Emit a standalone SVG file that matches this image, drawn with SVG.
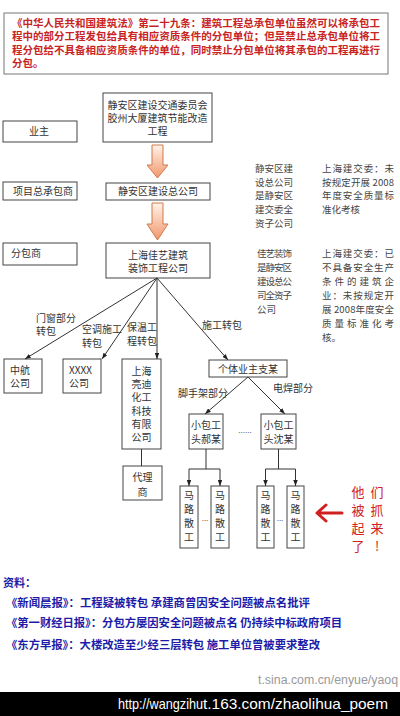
<svg xmlns="http://www.w3.org/2000/svg" width="400" height="716" viewBox="0 0 400 716">
<style>
.bg{fill:#fff}
.box{fill:#fff;stroke:#444;stroke-width:1}
.t{font-family:"Noto Sans CJK SC","Noto Sans",sans-serif;font-size:10px;fill:#333}
.s{font-size:9.5px}
.c{text-anchor:middle}
.note{font-family:"Noto Sans CJK SC","Noto Sans",sans-serif;font-size:9.5px;fill:#444}
.law{font-family:"Noto Sans CJK SC",sans-serif;font-size:10.5px;font-weight:bold;fill:#c82424}
.blue{font-family:"Noto Sans CJK SC",sans-serif;font-size:11px;font-weight:bold;fill:#1c1ca8}
.red{font-family:"Noto Sans CJK SC",sans-serif;font-size:13px;fill:#d02020;text-anchor:middle}
.ln{stroke:#333;stroke-width:1;fill:none}
.arr{marker-end:url(#ah)}
.fat{fill:url(#fg);stroke:#d07a4a;stroke-width:1}
</style>
<defs>
<marker id="ah" viewBox="0 0 8 6" refX="8" refY="3" markerWidth="6" markerHeight="4.5" markerUnits="userSpaceOnUse" orient="auto">
<path d="M0,0 L8,3 L0,6 z" fill="#222"/>
</marker>
<linearGradient id="fg" x1="0" y1="0" x2="0" y2="1">
<stop offset="0" stop-color="#fff3ec"/>
<stop offset="1" stop-color="#f2976a"/>
</linearGradient>
</defs>
<rect class="bg" x="0" y="0" width="400" height="716"/>

<g id="law">
<rect x="4" y="13" width="384" height="61" fill="#fff" stroke="#777" stroke-width="1"/>
<text class="law" x="12" y="27" textLength="368" lengthAdjust="spacingAndGlyphs">《中华人民共和国建筑法》第二十九条：建筑工程总承包单位虽然可以将承包工</text>
<text class="law" x="12" y="40" textLength="368" lengthAdjust="spacingAndGlyphs">程中的部分工程发包给具有相应资质条件的分包单位；但是禁止总承包单位将工</text>
<text class="law" x="12" y="54" textLength="368" lengthAdjust="spacingAndGlyphs">程分包给不具备相应资质条件的单位，同时禁止分包单位将其承包的工程再进行</text>
<text class="law" x="12" y="67">分包。</text>
</g>

<g id="owner-label">
<rect class="box" x="3" y="121" width="74" height="21"/>
<text class="t c" x="39" y="135">业主</text>
</g>
<g id="gc-label">
<rect class="box" x="3" y="182" width="74" height="18"/>
<text class="t" x="13" y="194.5">项目总承包商</text>
</g>
<g id="sub-label">
<rect class="box" x="3" y="243" width="74" height="22"/>
<text class="t" x="11" y="256.5">分包商</text>
</g>

<g id="owner">
<rect class="box" x="103" y="93" width="109" height="49"/>
<text class="t c" x="157.5" y="108.5">静安区建设交通委员会</text>
<text class="t c" x="157.5" y="121.5">胶州大厦建筑节能改造</text>
<text class="t c" x="157.5" y="134.5">工程</text>
</g>
<g id="gc">
<rect class="box" x="106" y="183" width="104" height="17"/>
<text class="t c" x="158" y="195">静安区建设总公司</text>
</g>
<g id="jiayi">
<rect class="box" x="106" y="243" width="104" height="35"/>
<text class="t c" x="158" y="258.5">上海佳艺建筑</text>
<text class="t c" x="158" y="271.5">装饰工程公司</text>
</g>

<g id="zhonghang">
<rect class="box" x="4" y="359" width="38" height="34"/>
<text class="t" x="10" y="373.5">中航</text>
<text class="t" x="10" y="386.5">公司</text>
</g>
<g id="xxxx">
<rect class="box" x="63" y="359" width="38" height="34"/>
<text class="t" x="69" y="373.5">XXXX</text>
<text class="t" x="69" y="386.5">公司</text>
</g>
<g id="liangdi">
<rect class="box" x="122" y="359" width="39" height="90"/>
<text class="t c" x="141.5" y="375">上海</text>
<text class="t c" x="141.5" y="388">亮迪</text>
<text class="t c" x="141.5" y="401">化工</text>
<text class="t c" x="141.5" y="414.5">科技</text>
<text class="t c" x="141.5" y="427.5">有限</text>
<text class="t c" x="141.5" y="440.5">公司</text>
</g>
<g id="agent">
<rect class="box" x="123" y="466" width="39" height="34"/>
<text class="t c" x="142.5" y="481">代理</text>
<text class="t c" x="142.5" y="495.5">商</text>
</g>
<g id="geti">
<rect class="box" x="209" y="360" width="78" height="17"/>
<text class="t c" x="248" y="372.5">个体业主支某</text>
</g>
<g id="hao">
<rect class="box" x="189" y="414" width="34" height="35"/>
<text class="t c" x="206" y="429">小包工</text>
<text class="t c" x="206" y="442.5">头郝某</text>
</g>
<g id="shen">
<rect class="box" x="261" y="414" width="35" height="35"/>
<text class="t c" x="278.5" y="429">小包工</text>
<text class="t c" x="278.5" y="442.5">头沈某</text>
</g>
<g id="worker1">
<rect class="box" x="180" y="486" width="18" height="62"/>
<text class="t c" x="189" y="498.5">马</text><text class="t c" x="189" y="512.5">路</text><text class="t c" x="189" y="526.5">散</text><text class="t c" x="189" y="540.5">工</text>
</g>
<g id="worker2">
<rect class="box" x="211" y="486" width="18" height="62"/>
<text class="t c" x="220" y="498.5">马</text><text class="t c" x="220" y="512.5">路</text><text class="t c" x="220" y="526.5">散</text><text class="t c" x="220" y="540.5">工</text>
</g>
<g id="worker3">
<rect class="box" x="257" y="486" width="17" height="62"/>
<text class="t c" x="265.5" y="498.5">马</text><text class="t c" x="265.5" y="512.5">路</text><text class="t c" x="265.5" y="526.5">散</text><text class="t c" x="265.5" y="540.5">工</text>
</g>
<g id="worker4">
<rect class="box" x="287" y="486" width="17" height="62"/>
<text class="t c" x="295.5" y="498.5">马</text><text class="t c" x="295.5" y="512.5">路</text><text class="t c" x="295.5" y="526.5">散</text><text class="t c" x="295.5" y="540.5">工</text>
</g>

<g id="connectors">
<path class="fat" d="M152,145 H163 V165 H168 L157.5,178 L147,165 H152 Z"/>
<path class="fat" d="M152,203 H163 V224 H168 L157.5,240 L147,224 H152 Z"/>
<line class="ln arr" x1="157" y1="278" x2="25" y2="359"/>
<line class="ln arr" x1="157" y1="278" x2="102" y2="359"/>
<line class="ln arr" x1="157" y1="278" x2="157" y2="359"/>
<line class="ln arr" x1="157" y1="278" x2="228" y2="360"/>
<line class="ln" x1="141.5" y1="449" x2="141.5" y2="466"/>
<line class="ln arr" x1="248" y1="377" x2="205" y2="414"/>
<line class="ln arr" x1="248" y1="377" x2="285" y2="414"/>
<path class="ln" d="M206,449 V469 M189,469 H220"/>
<line class="ln arr" x1="189" y1="469" x2="189" y2="486"/>
<line class="ln arr" x1="220" y1="469" x2="220" y2="486"/>
<path class="ln" d="M278.5,449 V469 M265.5,469 H295.5"/>
<line class="ln arr" x1="265.5" y1="469" x2="265.5" y2="486"/>
<line class="ln arr" x1="295.5" y1="469" x2="295.5" y2="486"/>
<text class="t" x="36" y="321.5">门窗部分</text>
<text class="t" x="36" y="334.5">转包</text>
<text class="t" x="82" y="332.5">空调施工</text>
<text class="t" x="82" y="346.5">转包</text>
<text class="t" x="127" y="330.5">保温工</text>
<text class="t" x="127" y="344.5">程转包</text>
<text class="t" x="202" y="328.5">施工转包</text>
<text class="t" x="178" y="396.5">脚手架部分</text>
<text class="t" x="273" y="391.5">电焊部分</text>
<text class="t c" x="245" y="433" style="font-size:8px;fill:#666">......</text>
<text class="t c" x="205" y="521" style="font-size:8px;fill:#666">...</text>
<text class="t c" x="280" y="521" style="font-size:8px;fill:#666">...</text>
</g>

<g id="notes">
<text class="note" x="255" y="171.5">静安区建</text>
<text class="note" x="255" y="185.5">设总公司</text>
<text class="note" x="255" y="198.5">是静安区</text>
<text class="note" x="255" y="212.5">建交委全</text>
<text class="note" x="255" y="226.5">资子公司</text>
<text class="note" x="322" y="171.5" textLength="72">上海建交委：未</text>
<text class="note" x="322" y="185.5" textLength="72">按规定开展 2008</text>
<text class="note" x="322" y="198.5" textLength="72">年度安全质量标</text>
<text class="note" x="322" y="212.5">准化考核</text>
<text class="note" x="257" y="256.5" textLength="35">佳艺装饰</text>
<text class="note" x="257" y="270.5" textLength="35">是静安区</text>
<text class="note" x="257" y="284.5" textLength="35">建设总公</text>
<text class="note" x="257" y="298.5" textLength="35">司全资子</text>
<text class="note" x="257" y="312.5">公司</text>
<text class="note" x="322" y="256.5" textLength="72">上海建交委：已</text>
<text class="note" x="322" y="270.5" textLength="72">不具备安全生产</text>
<text class="note" x="322" y="284.5" textLength="72">条件的建筑企</text>
<text class="note" x="322" y="298.5" textLength="72">业：未按规定开</text>
<text class="note" x="322" y="312.5" textLength="72">展 2008年度安全</text>
<text class="note" x="322" y="326.5" textLength="72">质量标准化考</text>
<text class="note" x="322" y="340.5">核。</text>
</g>

<g id="caught">
<path d="M342,513 H318 M326,505 L317,513 L326,521" fill="none" stroke="#d02020" stroke-width="3" stroke-linecap="round" stroke-linejoin="round"/>
<text class="red" x="358" y="497">他</text><text class="red" x="377" y="497">们</text>
<text class="red" x="358" y="515">被</text><text class="red" x="377" y="515">抓</text>
<text class="red" x="358" y="533">起</text><text class="red" x="377" y="533">来</text>
<text class="red" x="358" y="551">了</text><text class="red" x="377" y="551">!</text>
</g>

<g id="sources">
<text class="blue" x="3" y="587">资料：</text>
<text class="blue" x="6" y="607" textLength="304" lengthAdjust="spacingAndGlyphs">《新闻晨报》：工程疑被转包 承建商曾因安全问题被点名批评</text>
<text class="blue" x="6" y="627" textLength="336" lengthAdjust="spacingAndGlyphs">《第一财经日报》：分包方屡因安全问题被点名 仍持续中标政府项目</text>
<text class="blue" x="6" y="649" textLength="314" lengthAdjust="spacingAndGlyphs">《东方早报》：大楼改造至少经三层转包 施工单位曾被要求整改</text>
</g>

<g id="watermark">
<text x="258" y="684" font-family="Liberation Sans, sans-serif" font-size="12" fill="#999" textLength="140" lengthAdjust="spacingAndGlyphs">t.sina.com.cn/enyue/yaoq</text>
<rect x="0" y="692" width="400" height="24" fill="#000"/>
<text x="118" y="709" font-family="Liberation Sans, sans-serif" font-size="15" fill="#fff" textLength="85" lengthAdjust="spacingAndGlyphs">http://wangzihu</text>
<text x="203" y="709" font-family="Liberation Sans, sans-serif" font-size="15" fill="#fff" textLength="185" lengthAdjust="spacingAndGlyphs">t.163.com/zhaolihua_poem</text>
</g>
</svg>
